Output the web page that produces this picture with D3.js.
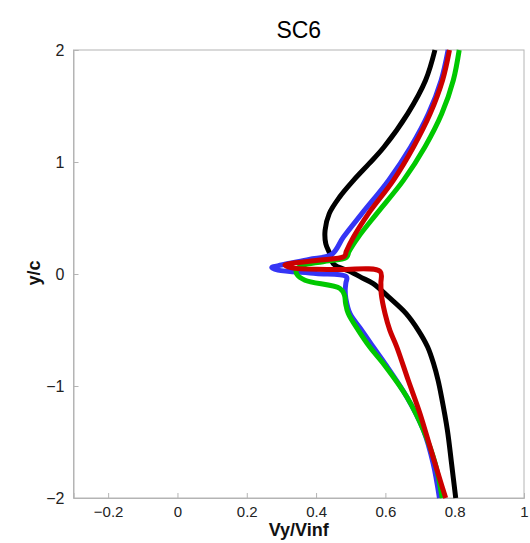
<!DOCTYPE html>
<html><head><meta charset="utf-8">
<script src="https://cdn.jsdelivr.net/npm/d3@7"></script>
<style>body{margin:0;background:#fff}svg{display:block}</style>
</head><body>
<script>
const xTicks = [-0.2, 0, 0.2, 0.4, 0.6, 0.8, 1];
const yTicks = [-2, -1, 0, 1, 2];

const blackX = [0.743,0.716,0.664,0.596,0.553,0.508,0.468,0.438,0.426,0.428,0.44,0.45,0.5,0.53,0.565,0.609,0.66,0.695,0.722,0.739,0.752,0.762,0.779,0.791,0.803];
const blackY = [2.0,1.73,1.43,1.134,0.985,0.836,0.6875,0.539,0.39,0.27,0.18,0.09,0.02,-0.03,-0.086,-0.205,-0.354,-0.503,-0.652,-0.8,-0.949,-1.098,-1.396,-1.693,-2.0];

const blueX = [0.781,0.761,0.724,0.673,0.609,0.532,0.479,0.445,0.38,0.3,0.272,0.29,0.4,0.488,0.486,0.484,0.486,0.498,0.532,0.565,0.599,0.662,0.71,0.738,0.756];
const blueY = [2.0,1.73,1.43,1.134,0.836,0.539,0.33,0.175,0.13,0.08,0.057,0.035,0.005,-0.027,-0.08,-0.146,-0.22,-0.354,-0.503,-0.652,-0.8,-1.098,-1.396,-1.693,-2.0];

const redX = [0.785,0.765,0.729,0.681,0.623,0.551,0.508,0.487,0.482,0.4,0.31,0.33,0.45,0.585,0.587,0.588,0.599,0.613,0.633,0.666,0.7,0.729,0.758,0.774];
const redY = [2.0,1.73,1.43,1.134,0.836,0.539,0.33,0.2,0.158,0.12,0.08,0.055,0.04,0.022,-0.08,-0.175,-0.354,-0.503,-0.652,-0.949,-1.247,-1.545,-1.842,-2.0];

const greenX = [0.813,0.796,0.7625,0.714,0.652,0.575,0.522,0.495,0.488,0.42,0.36,0.343,0.345,0.368,0.469,0.482,0.485,0.493,0.522,0.555,0.594,0.662,0.71,0.744,0.764];
const greenY = [2.0,1.73,1.43,1.134,0.836,0.539,0.33,0.2,0.15,0.11,0.075,0.035,-0.005,-0.056,-0.13,-0.19,-0.26,-0.354,-0.503,-0.652,-0.8,-1.098,-1.396,-1.693,-2.0];

const series = [
  {name:"black", color:"#000000", xs:blackX, ys:blackY},
  {name:"blue", color:"#3535f5", xs:blueX, ys:blueY},
  {name:"green", color:"#00c800", xs:greenX, ys:greenY},
  {name:"red", color:"#cc0000", xs:redX, ys:redY}
];

const W = 530, H = 543;
const m = {left:73.5, right:524, top:50, bottom:498};
const svg = d3.select("body").append("svg").attr("width",W).attr("height",H);

const x = d3.scaleLinear().domain([-0.3,1]).range([m.left,m.right]);
const y = d3.scaleLinear().domain([-2,2]).range([m.bottom,m.top]);

svg.append("defs").append("clipPath").attr("id","clip")
  .append("rect").attr("x",m.left).attr("y",m.top-1).attr("width",m.right-m.left).attr("height",m.bottom-m.top+2);

svg.append("rect").attr("x",m.left).attr("y",m.top).attr("width",m.right-m.left).attr("height",m.bottom-m.top)
  .attr("fill","none").attr("stroke","#b4b4b4").attr("stroke-width",1);

const font = "'Liberation Sans', Arial, sans-serif";

const xAxis = svg.append("g").attr("transform",`translate(0,${m.bottom})`)
  .call(d3.axisBottom(x).tickValues(xTicks).tickSize(-5).tickPadding(8).tickFormat(d3.format("")));
const yAxis = svg.append("g").attr("transform",`translate(${m.left},0)`)
  .call(d3.axisLeft(y).tickValues(yTicks).tickSize(-5).tickPadding(9).tickFormat(d3.format("")));
[xAxis,yAxis].forEach(g=>{
  g.select(".domain").attr("stroke","#b4b4b4");
  g.selectAll(".tick line").attr("stroke","#b4b4b4");
  g.selectAll(".tick text").attr("fill","#222").attr("font-family",font);
});
xAxis.selectAll(".tick text").attr("font-size",15);
yAxis.selectAll(".tick text").attr("font-size",16);

const line = d3.line().x(d=>x(d[0])).y(d=>y(d[1])).curve(d3.curveCatmullRom.alpha(0.5));
const g = svg.append("g").attr("clip-path","url(#clip)");
series.forEach(s=>{
  const pts = s.xs.map((v,i)=>[v,s.ys[i]]);
  g.append("path").datum(pts).attr("d",line).attr("fill","none")
    .attr("stroke",s.color).attr("stroke-width",5).attr("stroke-linejoin","round").attr("stroke-linecap","butt");
});

svg.append("text").attr("x",(m.left+m.right)/2).attr("y",38).attr("text-anchor","middle")
  .attr("font-family",font).attr("font-size",23).attr("fill","#000").text("SC6");
svg.append("text").attr("x",(m.left+m.right)/2).attr("y",536).attr("text-anchor","middle")
  .attr("font-family",font).attr("font-size",18).attr("font-weight","bold").attr("fill","#111").text("Vy/Vinf");
svg.append("text").attr("transform","translate(39.5,273) rotate(-90)").attr("text-anchor","middle")
  .attr("font-family",font).attr("font-size",18).attr("font-weight","bold").attr("fill","#111").text("y/c");
</script>
</body></html>
